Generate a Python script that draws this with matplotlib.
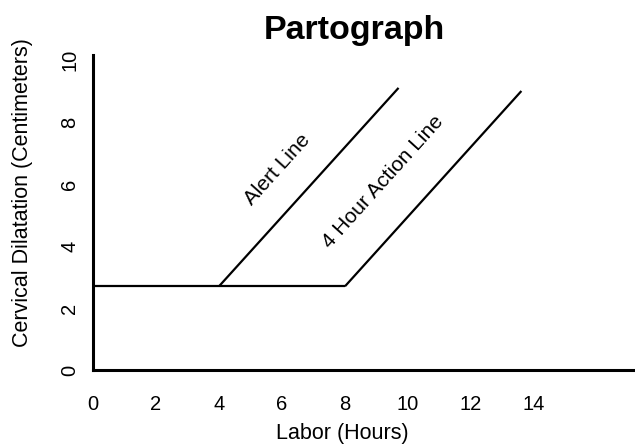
import matplotlib
matplotlib.use("Agg")
import matplotlib.pyplot as plt

plt.rcParams['font.family'] = ['Liberation Sans', 'DejaVu Sans']

# Data (hours, centimeters)
latent_x = [0, 8]
latent_y = [2.7, 2.7]
alert_x = [4, 9.7]
alert_y = [2.7, 9.1]
action_x = [8, 13.6]
action_y = [2.7, 9.0]
xticks = [0, 2, 4, 6, 8, 10, 12, 14]
yticks = [0, 2, 4, 6, 8, 10]

fig = plt.figure(figsize=(6.35, 4.45), dpi=100)
ax = fig.add_axes([93/635, 1-370/445, 542/635, 315/445])

ax.plot(latent_x, latent_y, color='black', lw=1.6, solid_capstyle='butt')
ax.plot(alert_x, alert_y, color='black', lw=1.6, solid_capstyle='butt')
ax.plot(action_x, action_y, color='black', lw=1.6, solid_capstyle='butt')

ax.set_xlim(0, 542/31.5)
ax.set_ylim(0, 315/31.0)
ax.set_xticks(xticks)
ax.set_yticks(yticks)
ax.tick_params(axis='both', length=0, labelsize=14.5)
ax.tick_params(axis='x', pad=18)
ax.tick_params(axis='y', pad=10)
for lab in ax.get_yticklabels():
    lab.set_rotation(90)
    lab.set_va('center')

for s in ['top', 'right']:
    ax.spines[s].set_visible(False)
for s in ['left', 'bottom']:
    ax.spines[s].set_linewidth(2.2)

ax.set_xlabel('Labor (Hours)', fontsize=15.5)
ax.xaxis.set_label_coords((342-93)/542, (370-433)/315)
ax.xaxis.label.set_va('center')
ax.set_ylabel('Cervical Dilatation (Centimeters)', fontsize=15.5)
ax.yaxis.set_label_coords((22-93)/542, (370-193)/315)
ax.yaxis.label.set_va('center')

ax.text(5.86, 6.48, 'Alert Line', rotation=48, fontsize=15,
        ha='center', va='center', rotation_mode='anchor')
ax.text(9.2, 6.06, '4 Hour Action Line', rotation=48, fontsize=15,
        ha='center', va='center', rotation_mode='anchor')

fig.text(354/635, 1-30/445, 'Partograph', fontsize=24.5, fontweight='bold',
         ha='center', va='center')

fig.savefig('out.png', dpi=100)
